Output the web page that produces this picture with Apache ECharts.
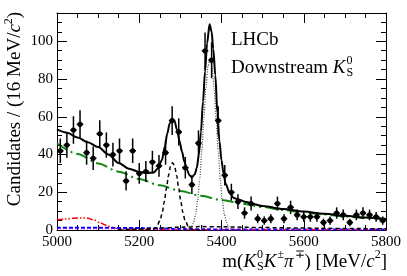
<!DOCTYPE html>
<html><head><meta charset="utf-8">
<script src="https://cdn.jsdelivr.net/npm/echarts@6/dist/echarts.min.js"></script>
<style>html,body{margin:0;padding:0;background:#fff}#c{width:407px;height:276px}</style>
</head><body><div id="c"></div>
<script>
// ---- data ----
const binCenters = [5008,5024,5040,5056,5072,5088,5104,5120,5136,5152,5168,5184,5200,5216,5232,5248,5264,5280,5296,5312,5328,5344,5360,5376,5392,5408,5424,5440,5456,5472,5488,5504,5520,5536,5552,5568,5584,5600,5616,5632,5648,5664,5680,5696,5712,5728,5744,5760,5776,5792];
const counts = [42,45,53,56,41,38,51,45,40,42,26,42,30,31,36,34,41,58,52,33,24,46,95,90,58,29,20,15,9,14,6,5,6,14,6,12,8,7,7,7,4,5,9,8,4,8,9,8,7,5];
const errors = [6.5,6.7,7.3,7.5,6.4,6.2,7.1,6.7,6.3,6.5,5.1,6.5,5.5,5.6,6.0,5.8,6.4,7.6,7.2,5.7,4.9,6.8,9.7,9.5,7.6,5.4,4.5,3.9,3.0,3.7,2.4,2.2,2.4,3.7,2.4,3.5,2.8,2.6,2.6,2.6,2.0,2.2,3.0,2.8,2.0,2.8,3.0,2.8,2.6,2.2];
const binHalfWidth = 8;

const totalX = [5000,5025,5050,5075,5100,5125,5150,5175,5200,5220,5235,5245,5255,5262,5268,5274,5280,5286,5292,5298,5304,5310,5316,5322,5328,5335,5340,5345,5350,5355,5360,5365,5371,5376,5380,5385,5390,5395,5400,5405,5410,5420,5430,5440,5460,5480,5500,5550,5600,5650,5700,5750,5800];
const totalY = [53.3,51.5,49,46.5,44,40,35.5,32.5,30.8,30.2,30.5,32.5,37,44,51,56.5,59,57.5,53,47,41.5,36,32,29,28,29.5,33,40,52,68,84,99,109,105,96,82,62,47,37,30,24.5,19.5,17,16.3,14.8,13.6,12.7,11.1,9.8,8.6,7.5,6.6,5.8];

const combX = [5000,5050,5100,5150,5200,5250,5300,5350,5400,5450,5500,5550,5600,5650,5700,5750,5800];
const combY = [46.0,40.3,35.3,30.9,27.0,23.7,20.7,18.1,15.9,13.9,12.2,10.6,9.3,8.2,7.1,6.3,5.5];

const b0X = [5200,5220,5231,5241,5251,5256,5261,5266,5271,5276,5281,5286,5291,5296,5301,5306,5311,5321,5331,5341,5360];
const b0Y = [0,0.05,0.17,1.17,5.2,9.4,15.1,22.0,28.8,33.8,35.6,33.8,28.8,22.0,15.1,9.4,5.2,1.17,0.17,0.02,0];

const bsX = [5300,5312,5322,5327,5332,5337,5342,5347,5352,5357,5362,5367,5372,5377,5382,5387,5392,5397,5402,5407,5412,5417,5422,5432,5450];
const bsY = [0,0.08,0.69,1.75,4.0,8.3,15.7,26.9,41.7,58.6,74.9,86.7,91,86.7,74.9,58.6,41.7,26.9,15.7,8.3,4.0,1.75,0.69,0.08,0];

const partX = [5000,5020,5040,5060,5075,5090,5105,5120,5135,5150,5175,5200,5300,5400,5600,5800];
const partY = [5.4,5.8,6.2,6.4,6.2,5.3,3.8,2.5,1.3,0.7,0.4,0.3,0.2,0.1,0.1,0.1];

const blueX = [5000,5100,5200,5250,5300,5400,5600,5800];
const blueY = [1.2,1.2,1.0,0.8,0.5,0.3,0.2,0.2];

const magX = [5000,5200,5400,5600,5800];
const magY = [0.6,0.5,0.4,0.3,0.3];

const lowX = [5150,5200,5250,5300,5350,5400,5500,5600,5700,5800];
const lowY = [0.2,0.5,1.0,1.5,1.8,1.7,1.3,1.0,0.8,0.6];

const xTicks = {min:5000, max:5800, interval:200};
const yTicks = {min:0, max:115, interval:20};

// ---- chart ----
const FF = '"Liberation Serif","Times New Roman",serif';
const chart = echarts.init(document.getElementById('c'), null, {renderer:'canvas'});

function pairs(xs, ys){ return xs.map((x,i)=>[x, ys[i]]); }

function axis(pos, showLabel, isX){
  const base = isX ? xTicks : yTicks;
  return {
    type:'value', position:pos, min:base.min, max:base.max, interval:base.interval,
    axisLine:{show:true, onZero:false, lineStyle:{color:'#000', width:1}},
    axisTick:{show:true, inside:true, length:10, lineStyle:{color:'#000', width:1}},
    minorTick:{show:true, splitNumber:4, length:5, lineStyle:{color:'#000', width:1}},
    splitLine:{show:false}, minorSplitLine:{show:false},
    axisLabel:{show:showLabel, color:'#000', fontFamily:FF, fontSize:15, margin:isX?5:4,
      formatter:(v)=> (v % base.interval === 0 ? String(v) : '')}
  };
}

function lineSeries(name, xs, ys, color, width, dash, z){
  return {type:'line', name, data:pairs(xs, ys), showSymbol:false, symbol:'none', smooth:0.3, smoothMonotone:'x',
    lineStyle:{color, width, type: dash || 'solid'}, z: z||2, silent:true, animation:false, clip:true};
}

// text layout helper for sub/superscripts
const mctx = document.createElement('canvas').getContext('2d');
function tw(t, font){ mctx.font = font; return mctx.measureText(t).width; }
function layoutText(segs, x0, yMid, alignRight){
  let total = 0;
  const ws = segs.map(s=>{
    const w = s.stack ? Math.max(tw(s.stack[0], s.font), tw(s.stack[1], s.font)) : tw(s.t, s.font);
    const ww = w + (s.pad||0);
    total += ww; return ww;
  });
  let x = alignRight ? x0 - total : x0;
  const out = [];
  segs.forEach((s,i)=>{
    if (s.stack){
      out.push({type:'text', x, y:yMid + s.dyUp, style:{text:s.stack[0], font:s.font, fill:'#000', align:'left', verticalAlign:'middle'}});
      out.push({type:'text', x, y:yMid + s.dyDown, style:{text:s.stack[1], font:s.font, fill:'#000', align:'left', verticalAlign:'middle'}});
    } else {
      out.push({type:'text', x, y:yMid + (s.dy||0), style:{text:s.t, font:s.font, fill:'#000', align:'left', verticalAlign:'middle'}});
    }
    x += ws[i];
  });
  return out;
}
const N19 = '19px ' + FF, I19 = 'italic 19px ' + FF, S12 = '12px ' + FF;

const xTitle = layoutText([
  {t:'m(', font:N19},
  {t:'K', font:I19, pad:1},
  {stack:['0','S'], font:S12, dyUp:-7, dyDown:5},
  {t:'K', font:I19, pad:1},
  {t:'±', font:S12, dy:-7},
  {t:'π', font:I19, pad:1},
  {t:'∓', font:S12, dy:-7},
  {t:') [MeV/', font:N19},
  {t:'c', font:I19},
  {t:'2', font:S12, dy:-7},
  {t:']', font:N19}
], 387, 262, true);

const ksLabel = layoutText([
  {t:'Downstream ', font:N19},
  {t:'K', font:I19, pad:1},
  {stack:['0','S'], font:S12, dyUp:-7, dyDown:5}
], 231, 68, false);

const option = {
  animation:false,
  backgroundColor:'#fff',
  grid:{left:57, right:21, top:13, bottom:46, containLabel:false},
  xAxis:[axis('bottom', true, true), axis('top', false, true)],
  yAxis:[axis('left', true, false), axis('right', false, false)],
  series:[
    lineSeries('partreco', partX, partY, '#ff0000', 1.5, [6,2,1.5,2,1.5,2], 2),
    lineSeries('blue', blueX, blueY, '#0000ff', 2, [4,2], 2),
    lineSeries('mag', magX, magY, '#ff00ff', 1, [1,2], 2),
    lineSeries('low', lowX, lowY, '#000', 1.5, [4,3], 2),
    lineSeries('comb', combX, combY, '#118811', 2, [12,4,2,4], 3),
    lineSeries('b0', b0X, b0Y, '#000', 1.5, [4,3], 3),
    lineSeries('bs', bsX, bsY, '#444', 1.2, [1,1.5], 3),
    lineSeries('total', totalX, totalY, '#000', 2, 'solid', 4),
    {
      type:'custom', name:'data', z:5, silent:true, animation:false,
      data: binCenters.map((x,i)=>[x, counts[i], errors[i]]),
      encode:{x:0, y:1},
      renderItem(params, api){
        const x = api.value(0), y = api.value(1), e = api.value(2);
        const c = api.coord([x, y]);
        const lo = api.coord([x, y - e]);
        const hi = api.coord([x, y + e]);
        const l = api.coord([x - binHalfWidth, y]);
        const r = api.coord([x + binHalfWidth, y]);
        return {type:'group', children:[
          {type:'line', shape:{x1:c[0], y1:lo[1], x2:c[0], y2:hi[1]}, style:{stroke:'#000', lineWidth:1.5}},
          {type:'line', shape:{x1:l[0], y1:c[1], x2:r[0], y2:c[1]}, style:{stroke:'#000', lineWidth:1.5}},
          {type:'circle', shape:{cx:c[0], cy:c[1], r:2.6}, style:{fill:'#000'}}
        ]};
      }
    }
  ],
  graphic:[
    {type:'text', x:231, y:40, style:{text:'LHCb', font:'19px ' + FF, fill:'#000', align:'left', verticalAlign:'middle'}},
    ...ksLabel,
    ...xTitle,
    {type:'text', x:15, y:109, rotation:Math.PI/2,
      style:{text:'{n|Candidates / (16 MeV/}{i|c}{s|2}{n|)}', fill:'#000', align:'center', verticalAlign:'middle',
        rich:{
          n:{fontFamily:FF, fontSize:19, lineHeight:24, fill:'#000'},
          i:{fontFamily:FF, fontSize:19, fontStyle:'italic', lineHeight:24, fill:'#000'},
          s:{fontFamily:FF, fontSize:12, lineHeight:12, verticalAlign:'top', fill:'#000'}
        }}}
  ]
};
chart.setOption(option);
</script>
</body></html>
